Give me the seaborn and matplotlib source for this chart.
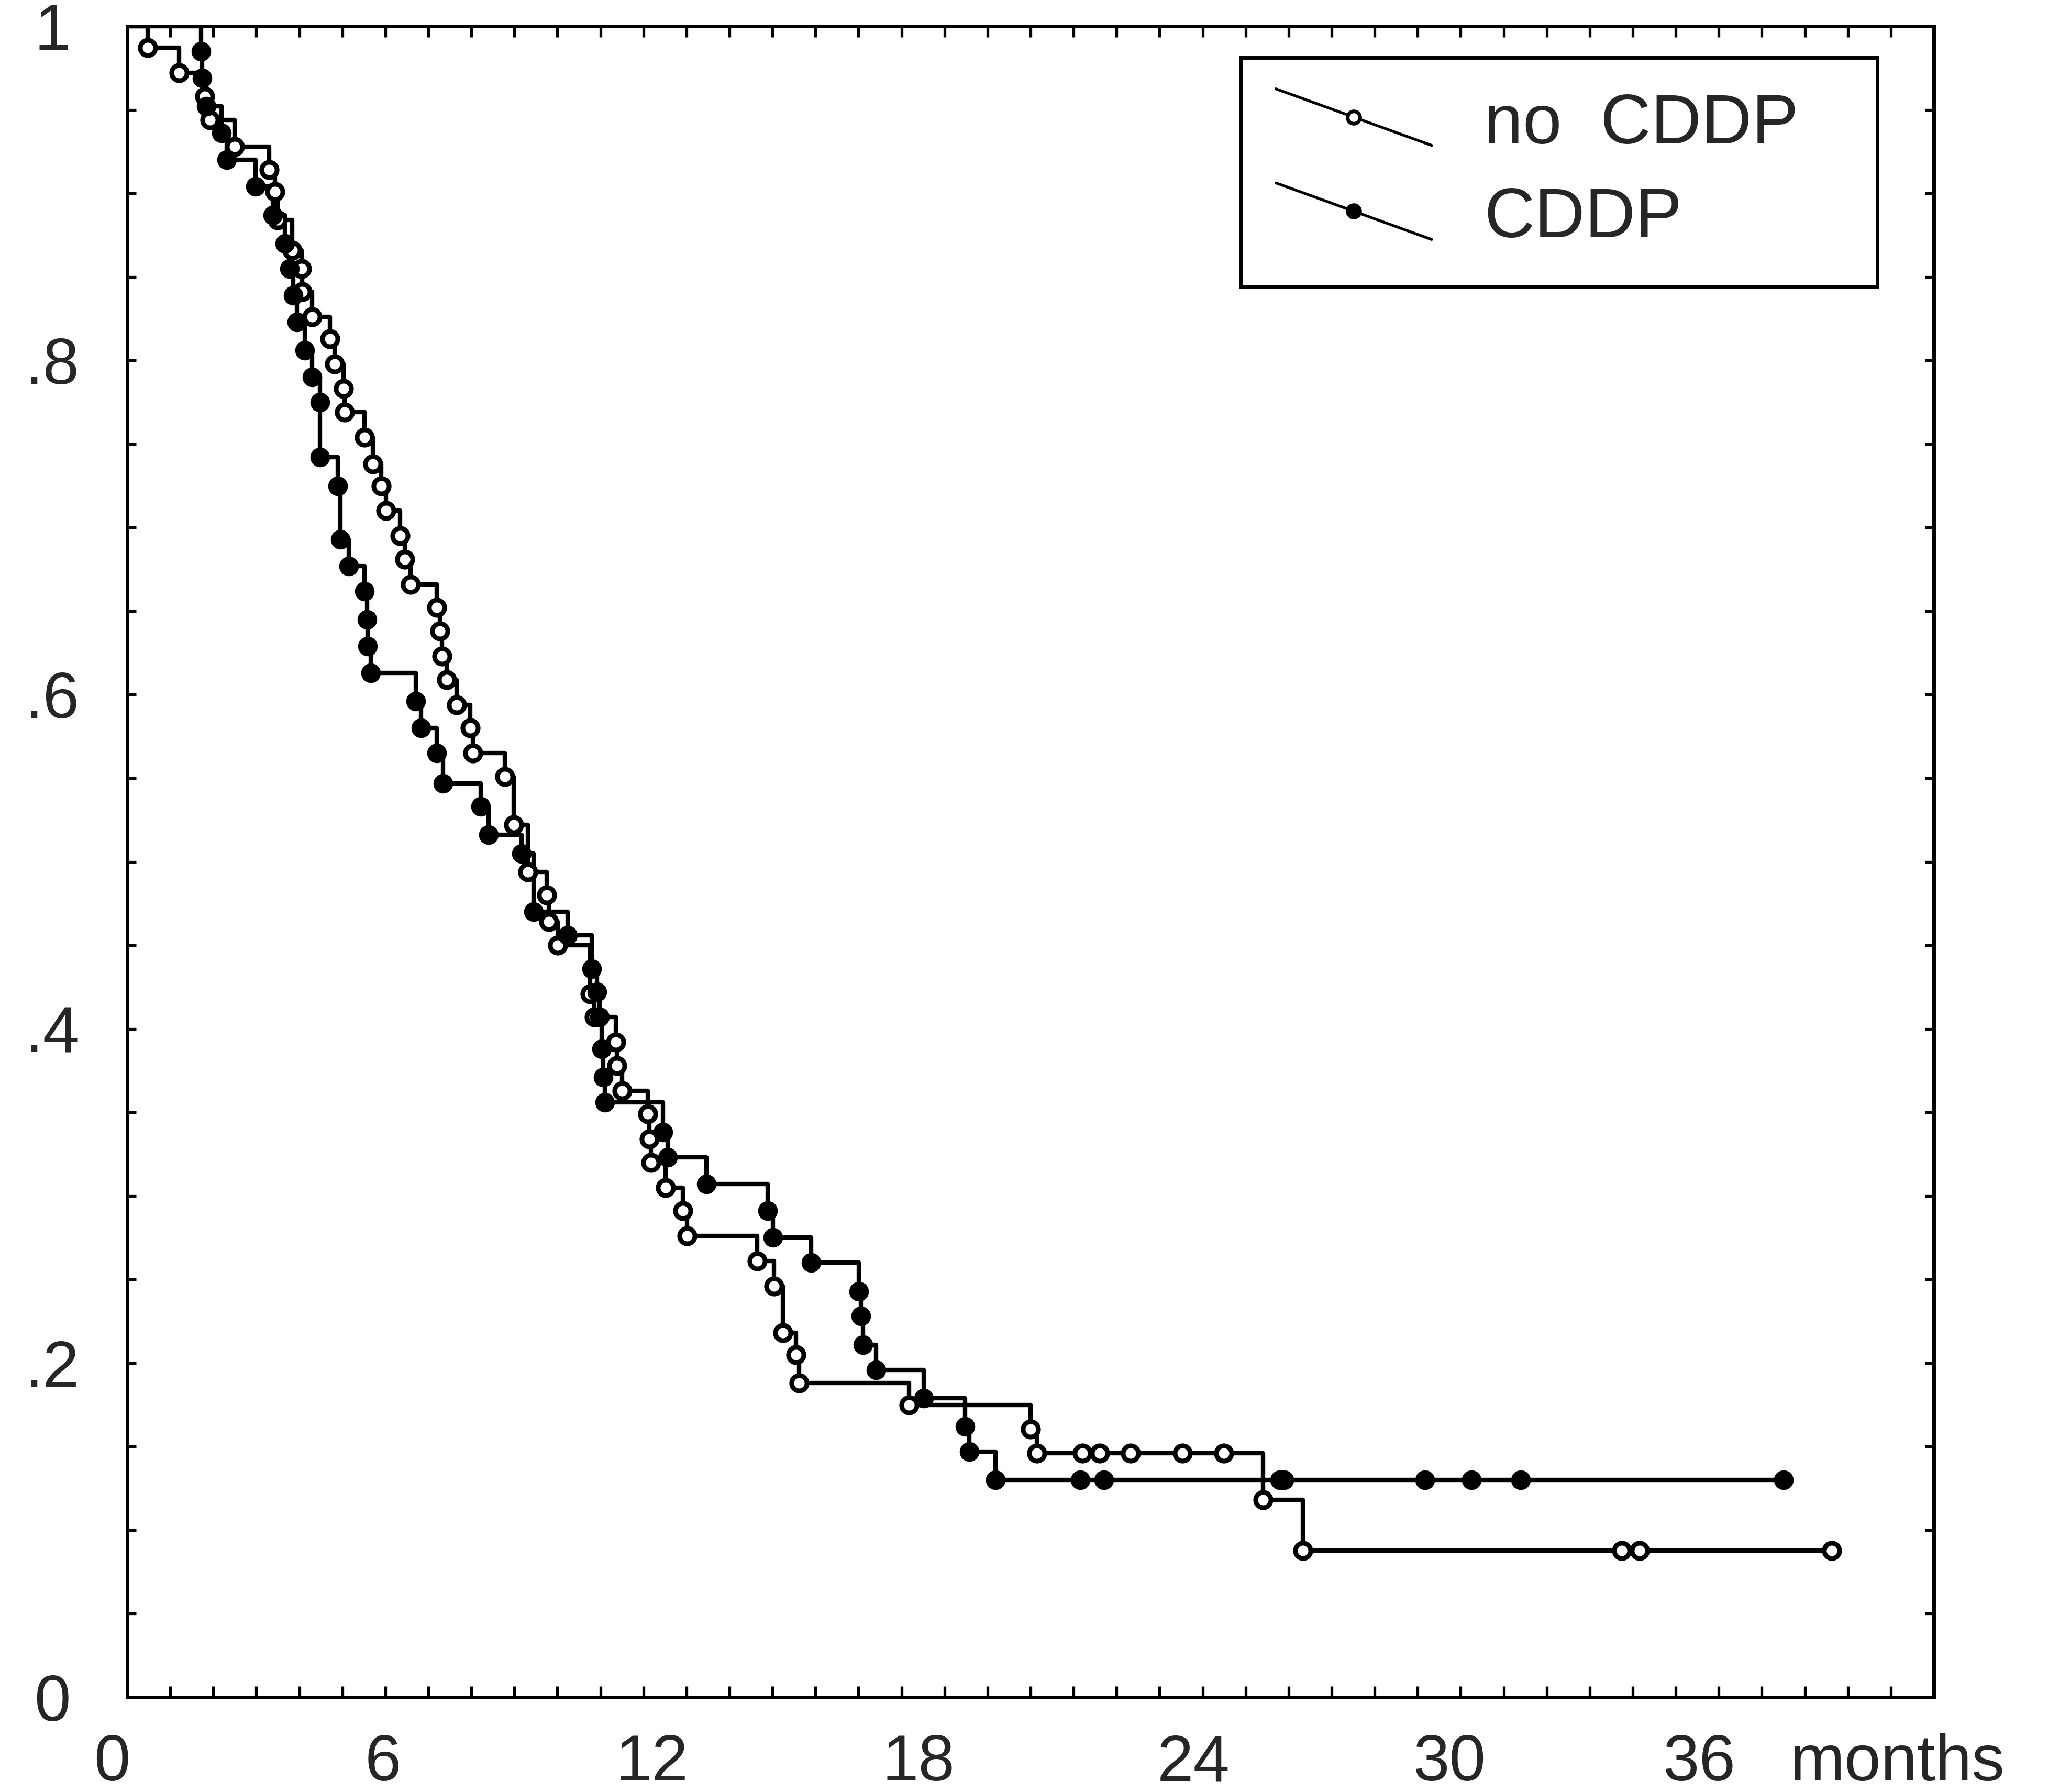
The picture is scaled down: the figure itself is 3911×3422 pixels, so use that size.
import matplotlib
matplotlib.use("Agg")
import matplotlib.pyplot as plt
import seaborn as sns
from matplotlib.lines import Line2D
from matplotlib.legend_handler import HandlerBase
from matplotlib.ticker import FixedLocator, MultipleLocator
from matplotlib.transforms import ScaledTranslation, blended_transform_factory

# ---------------- data ----------------
no_cddp_months = [0.48, 1.21, 1.80, 1.92, 2.49, 3.30, 3.43, 3.49, 3.83, 4.05, 4.07, 4.30,
                  4.71, 4.82, 5.03, 5.05, 5.52, 5.71, 5.91, 6.01, 6.34, 6.45, 6.59, 7.20,
                  7.27, 7.32, 7.43, 7.66, 7.97, 8.04, 8.78, 8.99, 9.31, 9.75, 9.80, 10.01,
                  10.76, 10.86, 11.36, 11.38, 11.51, 12.10, 12.14, 12.17, 12.52, 12.92, 13.02,
                  14.64, 15.04, 15.24, 15.55, 15.62, 18.17, 21.00, 21.15, 22.20, 22.61, 23.32,
                  24.53, 25.49, 26.40, 27.33, 34.74, 35.16, 39.63]
no_cddp_surv = [0.987, 0.972, 0.958, 0.944, 0.928, 0.914, 0.901, 0.884, 0.866, 0.855, 0.841, 0.826,
                0.813, 0.798, 0.783, 0.769, 0.754, 0.738, 0.725, 0.710, 0.695, 0.681, 0.666, 0.652,
                0.638, 0.623, 0.609, 0.594, 0.580, 0.565, 0.551, 0.522, 0.494, 0.480, 0.464, 0.450,
                0.421, 0.407, 0.392, 0.378, 0.363, 0.349, 0.334, 0.320, 0.305, 0.291, 0.276,
                0.261, 0.246, 0.218, 0.205, 0.188, 0.175, 0.1605, 0.146, 0.146, 0.146, 0.146,
                0.146, 0.146, 0.118, 0.0876, 0.0876, 0.0876, 0.0876]

cddp_months = [1.72, 1.74, 1.84, 2.19, 2.31, 2.98, 3.38, 3.67, 3.77, 3.86, 3.94, 4.13,
               4.30, 4.48, 4.48, 4.90, 4.96, 5.15, 5.52, 5.57, 5.59, 5.66, 6.71, 6.83,
               7.20, 7.34, 8.22, 8.40, 9.17, 9.45, 10.24, 10.80, 10.92, 10.98, 11.03, 11.07,
               11.10, 12.45, 12.56, 13.47, 14.89, 15.01, 15.90, 17.01, 17.06, 17.11, 17.41,
               18.52, 19.48, 19.58, 20.19, 22.16, 22.71, 26.80, 26.89, 30.17, 31.25, 32.39,
               38.51]
cddp_surv = [0.985, 0.969, 0.952, 0.936, 0.920, 0.904, 0.887, 0.870, 0.855, 0.839, 0.823, 0.806,
             0.790, 0.775, 0.742, 0.725, 0.693, 0.677, 0.662, 0.645, 0.629, 0.613, 0.596, 0.580,
             0.565, 0.547, 0.533, 0.516, 0.505, 0.470, 0.456, 0.436, 0.422, 0.407, 0.388, 0.371,
             0.356, 0.338, 0.323, 0.307, 0.291, 0.275, 0.260, 0.243, 0.228, 0.211, 0.196,
             0.179, 0.162, 0.147, 0.130, 0.130, 0.130, 0.130, 0.130, 0.130, 0.130, 0.130,
             0.130]

series_labels = ["no  CDDP", "CDDP"]
x_tick_values = [0, 6, 12, 18, 24, 30, 36]
x_tick_labels = ["0", "6", "12", "18", "24", "30", "36"]
y_tick_values = [0.0, 0.2, 0.4, 0.6, 0.8, 1.0]
y_tick_labels = ["0", ".2", ".4", ".6", ".8", "1"]
x_unit_label = "months"

# horizontal nudges of the x tick labels as printed (pixels, styling only)
x_label_nudge_px = [-29, -4, 16, 32, 65, 60, 45]

# ---------------- style ----------------
sns.set_style("white")
plt.rcParams["font.family"] = ["Liberation Sans", "DejaVu Sans"]

W, H, DPI = 3912, 3422, 100
fig = plt.figure(figsize=(W / DPI, H / DPI), dpi=DPI, facecolor="white")
ax = fig.add_axes([243 / W, (H - 3241) / H, (3693 - 243) / W, (3241 - 50) / H])
ax.set_facecolor("white")

LW = 6
# step curves (start at survival 1 at time 0)
for months, surv in [(no_cddp_months, no_cddp_surv), (cddp_months, cddp_surv)]:
    sns.lineplot(x=[0.0] + months, y=[1.0] + surv, estimator=None, sort=False,
                 drawstyle="steps-post", color="black", linewidth=LW, ax=ax,
                 zorder=2, legend=False)

# markers
sns.scatterplot(x=no_cddp_months, y=no_cddp_surv, marker="o", s=21 ** 2,
                color="white", edgecolor="black", linewidth=6.5, ax=ax, zorder=3,
                legend=False)
sns.scatterplot(x=cddp_months, y=cddp_surv, marker="o", s=27 ** 2,
                color="black", edgecolor="black", linewidth=0, ax=ax, zorder=4,
                legend=False)

ax.set_xlim(0, 42)
ax.set_ylim(0, 1)
ax.set_xlabel("")
ax.set_ylabel("")

ax.xaxis.set_major_locator(FixedLocator(x_tick_values))
ax.set_xticklabels(x_tick_labels)
ax.xaxis.set_minor_locator(MultipleLocator(1))
ax.yaxis.set_major_locator(FixedLocator(y_tick_values))
ax.set_yticklabels(y_tick_labels)
ax.yaxis.set_minor_locator(MultipleLocator(0.05))

TFS = 90
ax.tick_params(which="both", direction="in", top=True, right=True,
               bottom=True, left=True, width=3.8, color="black")
ax.tick_params(axis="x", which="both", length=15)
ax.tick_params(axis="y", which="both", length=12)
ax.tick_params(axis="x", which="major", labelsize=TFS, pad=50)
ax.tick_params(axis="y", which="major", labelsize=TFS, pad=103)
for lab in ax.get_yticklabels():
    lab.set_horizontalalignment("center")
for lab, dx in zip(ax.get_xticklabels(), x_label_nudge_px):
    lab.set_transform(lab.get_transform() +
                      ScaledTranslation(dx / DPI, 0, fig.dpi_scale_trans))

for sp in ax.spines.values():
    sp.set_visible(True)
    sp.set_linewidth(5)
    sp.set_color("black")

# "months" unit label placed on the tick-label row
trans = blended_transform_factory(ax.transData, ax.transAxes) + \
    ScaledTranslation(0, -50 / 72, fig.dpi_scale_trans)
ax.text(41.15, 0, x_unit_label, transform=trans, ha="center", va="top", fontsize=TFS)


# ---------------- legend with diagonal handles ----------------
class DiagonalHandler(HandlerBase):
    def __init__(self, marker_kw, **kw):
        super().__init__(**kw)
        self.marker_kw = marker_kw

    def create_artists(self, legend, orig_handle, xdescent, ydescent, width,
                       height, fontsize, trans):
        x0 = -xdescent
        x1 = -xdescent + width
        y_top = 0.78 * fontsize
        y_bot = -0.03 * fontsize
        line = Line2D([x0, x1], [y_top, y_bot], color="black", linewidth=3.8)
        line.set_transform(trans)
        mk = Line2D([(x0 + x1) / 2], [(y_top + y_bot) / 2], linestyle="none",
                    **self.marker_kw)
        mk.set_transform(trans)
        return [line, mk]


h_open = Line2D([], [], color="black")
h_fill = Line2D([], [], color="black")
open_kw = dict(marker="o", markersize=17, markerfacecolor="white",
               markeredgecolor="black", markeredgewidth=5)
fill_kw = dict(marker="o", markersize=22, markerfacecolor="black",
               markeredgecolor="black", markeredgewidth=0)

FS = 96
leg = ax.legend([h_open, h_fill], series_labels,
                handler_map={h_open: DiagonalHandler(open_kw),
                             h_fill: DiagonalHandler(fill_kw)},
                loc="upper left", bbox_to_anchor=(0.6165, 0.8461, 0.3522, 0.1351),
                mode="expand", borderaxespad=0, fontsize=FS,
                handlelength=2.23, handletextpad=0.75, labelspacing=0.41,
                borderpad=0.5, frameon=True, fancybox=False, shadow=False,
                framealpha=1, edgecolor="black")
leg.get_frame().set_linewidth(5)

fig.savefig("out.png", dpi=DPI, facecolor="white")
